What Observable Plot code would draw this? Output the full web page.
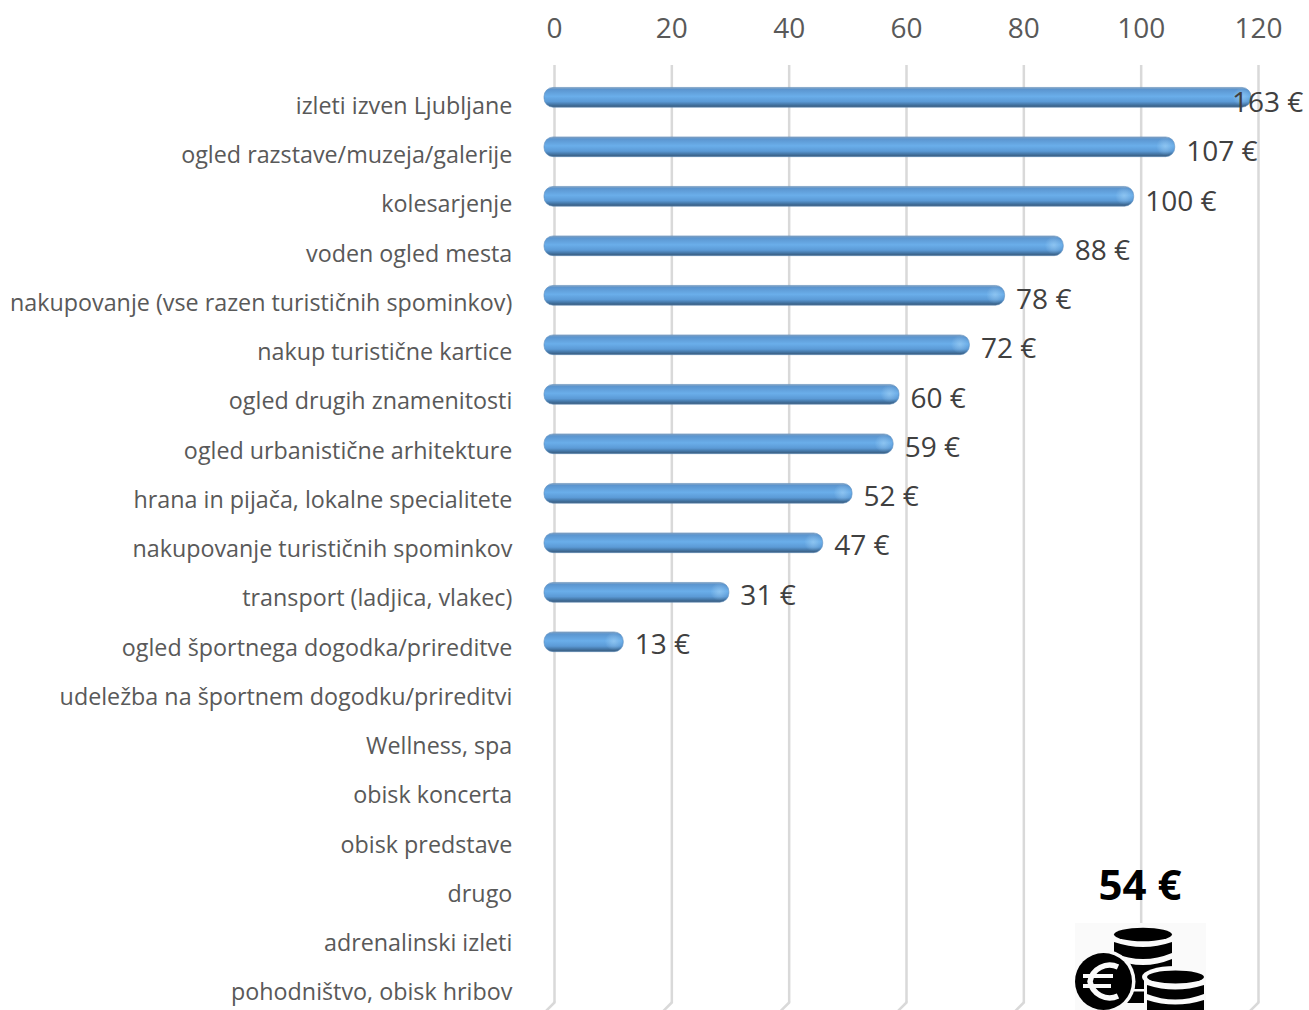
<!DOCTYPE html>
<html><head><meta charset="utf-8">
<script src="https://cdn.jsdelivr.net/npm/d3@7"></script>
<script src="https://cdn.jsdelivr.net/npm/@observablehq/plot@0.6"></script>
<style>
html,body{margin:0;padding:0;background:#fff;width:1309px;height:1010px;overflow:hidden}
#wrap{position:relative;width:1309px;height:1010px}
#wrap>div>svg,#layerText svg{position:absolute;left:0;top:0}
#total{position:absolute;left:1059px;top:859px;width:162px;text-align:center;font:bold 42px "Open Sans";color:#000;line-height:50px}
#icon{position:absolute;left:1075px;top:923px}
</style></head><body>
<div id="wrap"><div id="layerBars"></div><div id="total">54 €</div>
<svg id="icon" width="131" height="87" viewBox="0 0 131 87">
<rect width="131" height="87" fill="#fafafa"/>
<ellipse cx="68" cy="11.5" rx="29" ry="6.8" fill="#000"/>
<path d="M39 19 Q68 29 97 19 V30 Q68 42 39 30Z" fill="#000"/>
<path d="M39 36 Q68 48 97 36 V80 H39Z" fill="#000"/>
<rect x="56" y="66" width="13" height="2.5" fill="#fafafa"/>
<ellipse cx="100" cy="54" rx="33" ry="11" fill="#fafafa"/>
<rect x="69" y="54" width="62" height="33" fill="#fafafa"/>
<circle cx="28.5" cy="58.5" r="32" fill="#fafafa"/>
<rect x="0" y="80" width="69" height="7" fill="#fafafa"/>
<ellipse cx="100.5" cy="54" rx="28.5" ry="6.5" fill="#000"/>
<path d="M72 62 Q100 71 129 62 V71 Q100 82 72 71Z" fill="#000"/>
<path d="M72 77 Q100 86 129 77 V87 H72Z" fill="#000"/>
<circle cx="28.5" cy="58.5" r="28.5" fill="#000"/>
<path d="M43 44 A20 20 0 0 0 15 58.5 A20 20 0 0 0 43 73" fill="none" stroke="#fafafa" stroke-width="5.5"/>
<path d="M8 53 H38 M8 63 H36" stroke="#fafafa" stroke-width="4"/>
</svg>
<div id="layerText"></div></div>
<script>
const categories = ["izleti izven Ljubljane","ogled razstave/muzeja/galerije","kolesarjenje","voden ogled mesta","nakupovanje (vse razen turističnih spominkov)","nakup turistične kartice","ogled drugih znamenitosti","ogled urbanistične arhitekture","hrana in pijača, lokalne specialitete","nakupovanje turističnih spominkov","transport (ladjica, vlakec)","ogled športnega dogodka/prireditve","udeležba na športnem dogodku/prireditvi","Wellness, spa","obisk koncerta","obisk predstave","drugo","adrenalinski izleti","pohodništvo, obisk hribov"];
const values = [163,107,100,88,78,72,60,59,52,47,31,13,null,null,null,null,null,null,null];
const xTicks = [0,20,40,60,80,100,120];
const axisMax = 120;
const labelCap = 114.8;
const rows = categories.map((name,i)=>({name,value:values[i]}));
const filled = rows.filter(d=>d.value!=null);
const lastCat = categories[categories.length-1];

const defs = () => {
  const s = d3.create("svg:defs");
  const g = s.append("linearGradient").attr("id","barGrad").attr("x1",0).attr("x2",0).attr("y1",0).attr("y2",1);
  [[0,"#8aa6c2"],[.1,"#5b95cf"],[.45,"#6aaeea"],[.72,"#5b9ad6"],[.9,"#406f9c"],[1,"#3b5a78"]].forEach(([o,c])=>g.append("stop").attr("offset",o).attr("stop-color",c));
  const h = s.append("radialGradient").attr("id","endGlow");
  [[0,"#a9d6f7",.55],[1,"#a9d6f7",0]].forEach(([o,c,a])=>h.append("stop").attr("offset",o).attr("stop-color",c).attr("stop-opacity",a));
  return s.node();
};

const common = {
  width:1309, height:1010,
  marginLeft:554, marginRight:51, marginTop:0, marginBottom:0,
  style:{background:"transparent",fontFamily:"Open Sans",overflow:"visible"},
  x:{domain:[0,axisMax],axis:null}
};

const gridTick = {draw(ctx,l){ctx.moveTo(0,0);ctx.lineTo(0,-l);}};

document.getElementById("layerBars").append(Plot.plot({
  ...common,
  y:{domain:categories,axis:null,paddingInner:0,paddingOuter:0,round:false,range:[72.55,1013.05]},
  marks:[
    defs,
    Plot.ruleX(xTicks,{y1:()=>categories[0],y2:()=>lastCat,stroke:"#d9d9d9",strokeWidth:2.5,insetTop:-7.5,insetBottom:11}),
    Plot.vector(xTicks,{x:d=>d,y:()=>lastCat,length:14,rotate:225,anchor:"start",shape:gridTick,dy:13.7,stroke:"#d9d9d9",strokeWidth:2.5}),
    Plot.barX(filled,{y:"name",x1:0,x2:d=>Math.min(d.value,axisMax),fill:"url(#barGrad)",stroke:"#5f8fbd",strokeWidth:.6,rx:9,dx:-7,insetLeft:-3,insetTop:14.9,insetBottom:14.9}),
    Plot.dot(filled,{y:"name",x:d=>Math.min(d.value,axisMax),r:9,fill:"url(#endGlow)",dx:-17,dy:-1})
  ]
}));

document.getElementById("layerText").append(Plot.plot({
  ...common,
  y:{domain:categories,axis:null,paddingInner:0,paddingOuter:0,round:false,range:[80.4,1016.15]},
  marks:[
    Plot.text(rows,{y:"name",text:"name",x:()=>0,dx:-42.2,dy:.8,textAnchor:"end",fontSize:23.3,fill:"#595959"}),
    Plot.text(filled,{y:"name",x:d=>Math.min(d.value,labelCap),text:d=>d.value+" €",textAnchor:"start",dx:4,dy:-2.4,fontSize:28,fill:"#404040"}),
    Plot.text(xTicks,{x:d=>d,y:()=>categories[0],text:d=>String(d),dy:-76.5,textAnchor:"middle",fontSize:28,fill:"#595959"})
  ]
}));
</script></body></html>
